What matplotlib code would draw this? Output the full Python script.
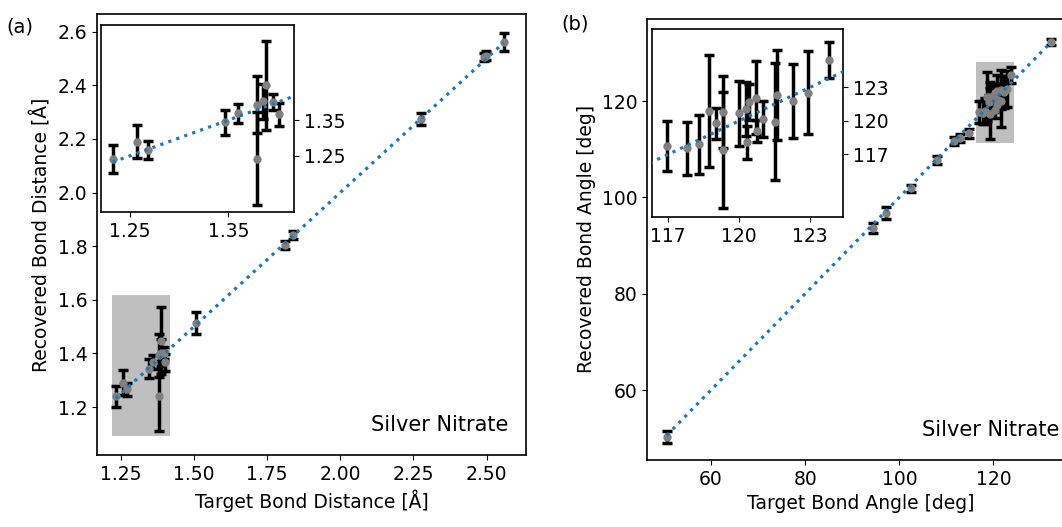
import matplotlib
matplotlib.use("Agg")
import matplotlib.pyplot as plt
from matplotlib.patches import Rectangle
import numpy as np

# ---------------- data ----------------
dist_target = [1.2325, 1.2577, 1.2689, 1.3463, 1.3594, 1.3793, 1.3793, 1.3854,
               1.3880, 1.3955, 1.4015, 1.506, 1.810, 1.838, 2.277, 2.4925,
               2.4985, 2.5585]
dist_recovered = [1.240, 1.290, 1.266, 1.3435, 1.3687, 1.393, 1.2417, 1.4023,
                  1.447, 1.4004, 1.3668, 1.513, 1.805, 1.843, 2.2746, 2.505,
                  2.511, 2.5605]
dist_err = [0.039, 0.047, 0.025, 0.034, 0.027, 0.080, 0.130, 0.050, 0.125,
            0.022, 0.032, 0.040, 0.015, 0.015, 0.022, 0.015, 0.018, 0.033]

angle_target = [50.6, 94.3, 97.1, 102.5, 108.0, 111.6, 112.8, 114.7, 116.93,
                117.78, 118.30, 118.72, 119.02, 119.30, 119.30, 120.01, 120.29,
                120.32, 120.41, 120.72, 120.77, 121.03, 121.52, 121.59, 122.27,
                122.91, 123.82, 132.3]
angle_recovered = [50.2, 93.6, 96.8, 101.9, 107.75, 111.7, 112.25, 113.3,
                   117.77, 117.54, 117.9, 120.9, 119.77, 120.82, 117.39, 120.67,
                   121.06, 118.07, 121.72, 122.07, 119.1, 120.13, 119.93,
                   122.31, 121.8, 122.52, 125.44, 132.3]
angle_err = [1.2, 1.0, 1.2, 0.7, 0.8, 0.8, 0.8, 0.9, 2.24, 2.36, 2.64, 5.03,
             1.4, 3.22, 5.22, 2.91, 2.39, 1.5, 1.6, 3.25, 1.0, 1.61, 5.25, 4.06,
             3.33, 3.73, 1.64, 0.6]

dist_main_xticks = [1.25, 1.50, 1.75, 2.00, 2.25, 2.50]
dist_main_yticks = [1.2, 1.4, 1.6, 1.8, 2.0, 2.2, 2.4, 2.6]
dist_inset_ticks = [1.25, 1.35]
angle_main_ticks = [60, 80, 100, 120]
angle_inset_ticks = [117, 120, 123]

# ---------------- style ----------------
plt.rcParams['font.family'] = ['DejaVu Sans']
plt.rcParams['font.size'] = 13.5
W, H = 1062, 527
fig = plt.figure(figsize=(W / 100, H / 100), dpi=100)


def frac(l, t, r, b):
    return [l / W, (H - b) / H, (r - l) / W, (b - t) / H]


ebkw = dict(fmt='o', color='gray', ms=5, ecolor='black', elinewidth=2.5,
            capsize=3.6, capthick=2.5, zorder=3)
linekw = dict(color='#1f77b4', ls=':', lw=2.3, zorder=4)


def draw(ax, tx, ry, er):
    order = np.argsort(tx)
    xs = np.array(tx)[order]
    ax.errorbar(tx, ry, yerr=er, **ebkw)
    ax.plot(xs, xs, **linekw)


# ---------------- panel (a) ----------------
ax1 = fig.add_axes(frac(97, 14, 526, 455))
draw(ax1, dist_target, dist_recovered, dist_err)
ax1.set_xlim(1.168, 2.635)
ax1.set_ylim(1.021, 2.666)
ax1.set_xticks(dist_main_xticks)
ax1.set_yticks(dist_main_yticks)
ax1.set_xlabel('Target Bond Distance [Å]')
ax1.set_ylabel('Recovered Bond Distance [Å]')
ax1.text(0.96, 0.045, 'Silver Nitrate', transform=ax1.transAxes,
         ha='right', va='bottom', fontsize=15)

ins1 = fig.add_axes(frac(101, 25, 294, 212))
draw(ins1, dist_target, dist_recovered, dist_err)
ins1.set_xlim(1.2207, 1.4167)
ins1.set_ylim(1.093, 1.616)
ins1.set_xticks(dist_inset_ticks)
ins1.set_yticks(dist_inset_ticks)
ins1.yaxis.tick_right()
ax1.add_patch(Rectangle((1.2207, 1.093), 1.4167 - 1.2207, 1.616 - 1.093,
                        facecolor='#bfbfbf', edgecolor='none', zorder=1))

# ---------------- panel (b) ----------------
ax2 = fig.add_axes(frac(647, 18.7, 1074, 460))
draw(ax2, angle_target, angle_recovered, angle_err)
ax2.set_xlim(46.4, 137.1)
ax2.set_ylim(45.47, 137.09)
ax2.set_xticks(angle_main_ticks)
ax2.set_yticks(angle_main_ticks)
ax2.set_xlabel('Target Bond Angle [deg]')
ax2.set_ylabel('Recovered Bond Angle [deg]')
ax2.text(0.965, 0.045, 'Silver Nitrate', transform=ax2.transAxes,
         ha='right', va='bottom', fontsize=15)

ins2 = fig.add_axes(frac(651.7, 29.3, 843.3, 217.3))
draw(ins2, angle_target, angle_recovered, angle_err)
ins2.set_xlim(116.3, 124.41)
ins2.set_ylim(111.36, 128.2)
ins2.set_xticks(angle_inset_ticks)
ins2.set_yticks(angle_inset_ticks)
ins2.yaxis.tick_right()
ax2.add_patch(Rectangle((116.3, 111.36), 124.41 - 116.3, 128.2 - 111.36,
                        facecolor='#bfbfbf', edgecolor='none', zorder=1))

for a in (ax1, ax2, ins1, ins2):
    for s in a.spines.values():
        s.set_linewidth(1.2)

fig.text(20 / W, 1 - 27 / H, '(a)', ha='center', va='center', fontsize=14)
fig.text(575 / W, 1 - 24 / H, '(b)', ha='center', va='center', fontsize=14)

fig.savefig('out.png', dpi=100)
